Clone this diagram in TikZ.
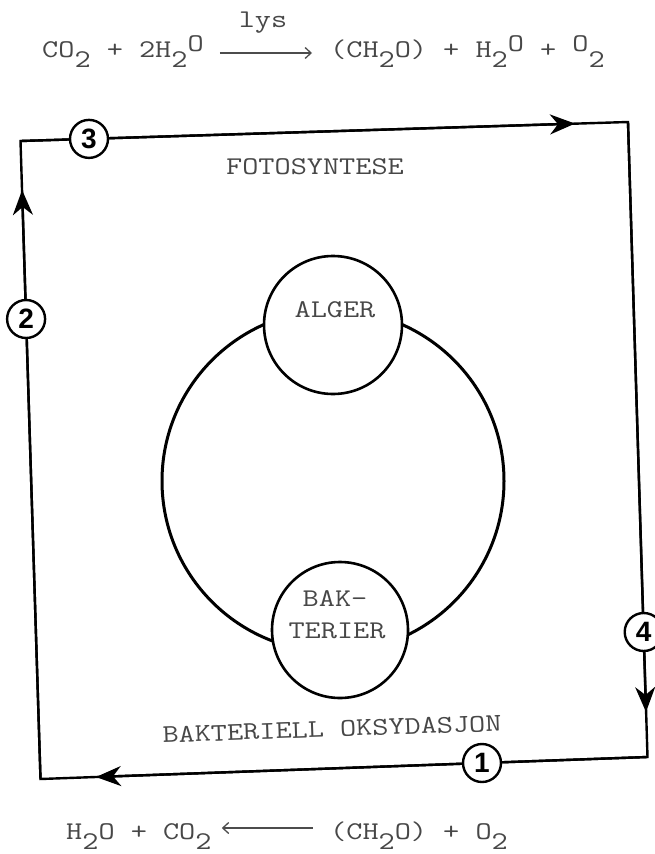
\documentclass[tikz,border=0pt]{standalone}
\usepackage{fontspec}
\usepackage{graphicx}
\newfontfamily\numfont{Liberation Sans}
\usetikzlibrary{arrows.meta}
\newcommand{\lowr}[1]{\raisebox{-10pt}{#1}}
\newcommand{\upr}[1]{\raisebox{6pt}{#1}}
\newcommand{\tw}[1]{\scalebox{1.23}[1]{#1}}
\begin{document}
\begin{tikzpicture}[x=1pt,y=-1pt,
  txt/.style={font=\ttfamily\fontsize{25.5}{28}\selectfont, text=black!72, inner sep=0pt},
  num/.style={circle, draw, line width=2.4pt, fill=white, minimum size=38pt, inner sep=0pt,
    font=\numfont\bfseries\fontsize{28}{28}\selectfont},
  frameline/.style={line width=2.4pt, line join=miter},
  bigtip/.style={-{Stealth[length=25pt,width=20pt,inset=8pt]}},
  eqarrow/.style={line width=1.3pt, draw=black!70},
  ring/.style={circle, draw, line width=3pt, inner sep=0pt},
  org/.style={circle, draw, line width=2.6pt, fill=white, inner sep=0pt}
]
\useasboundingbox (0,0) rectangle (655,854);

% equations
\node[txt, anchor=base west] (eqTL) at (42,57) {\tw{CO\lowr{2} + 2H\lowr{2}\upr{O}}};
\node[txt, anchor=base west] (eqTR) at (330,57) {\tw{(CH\lowr{2}O) + H\lowr{2}\upr{O} + \upr{O}\lowr{2}}};
\node[txt, anchor=base] (lys) at (263,27) {\tw{lys}};
\draw[eqarrow, -{Straight Barb[length=6pt,width=11pt]}]
  ([xshift=16pt,yshift=4pt]eqTL.base east) -- ([xshift=-18pt,yshift=4pt]eqTR.base west);

\node[txt, anchor=base west] (eqBL) at (66,839) {\tw{H\lowr{2}O + CO\lowr{2}}};
\node[txt, anchor=base west] (eqBR) at (330,839) {\tw{(CH\lowr{2}O) + O\lowr{2}}};
\draw[eqarrow, {Straight Barb[length=6pt,width=11pt]}-]
  ([xshift=10pt,yshift=11pt]eqBL.base east) -- ([xshift=-17pt,yshift=11pt]eqBR.base west);

% frame
\coordinate (TL) at (20.5,141);
\coordinate (TR) at (628,122);
\coordinate (BR) at (647.5,757);
\coordinate (BL) at (40.5,779);
\coordinate (tipT) at (575,123.6);
\coordinate (tipR) at (646,712);
\coordinate (tipB) at (96,777);
\coordinate (tipL) at (22.1,190);
\draw[frameline] (BL) -- (TL) -- (TR) -- (BR) -- cycle;
\draw[frameline, bigtip] (TL) -- (tipT);
\draw[frameline, bigtip] (TR) -- (tipR);
\draw[frameline, bigtip] (BR) -- (tipB);
\draw[frameline, bigtip] (BL) -- (tipL);

\node[num] (n3) at (89,138.9) {3};
\node[num] (n2) at (26.1,319) {2};
\node[num] (n1) at (482,763) {1};
\node[num] (n4) at (643.7,632) {4};

\node[txt] (foto) at (315,167) {\tw{FOTOSYNTESE}};
\node[txt, rotate=2] (bakox) at (332,729) {\tw{BAKTERIELL OKSYDASJON}};

% cycle
\node[ring, minimum size=342pt] (cyc) at (333,481) {};
\node[org, minimum size=138pt] (alger) at (333,325) {};
\node[org, minimum size=136pt] (bak) at (340,630) {};
\node[txt] (algertxt) at (335,310) {\tw{ALGER}};
\node[txt] (baktxt1) at (335,599) {\tw{BAK-}};
\node[txt] (baktxt2) at (337,631) {\tw{TERIER}};
\end{tikzpicture}
\end{document}
